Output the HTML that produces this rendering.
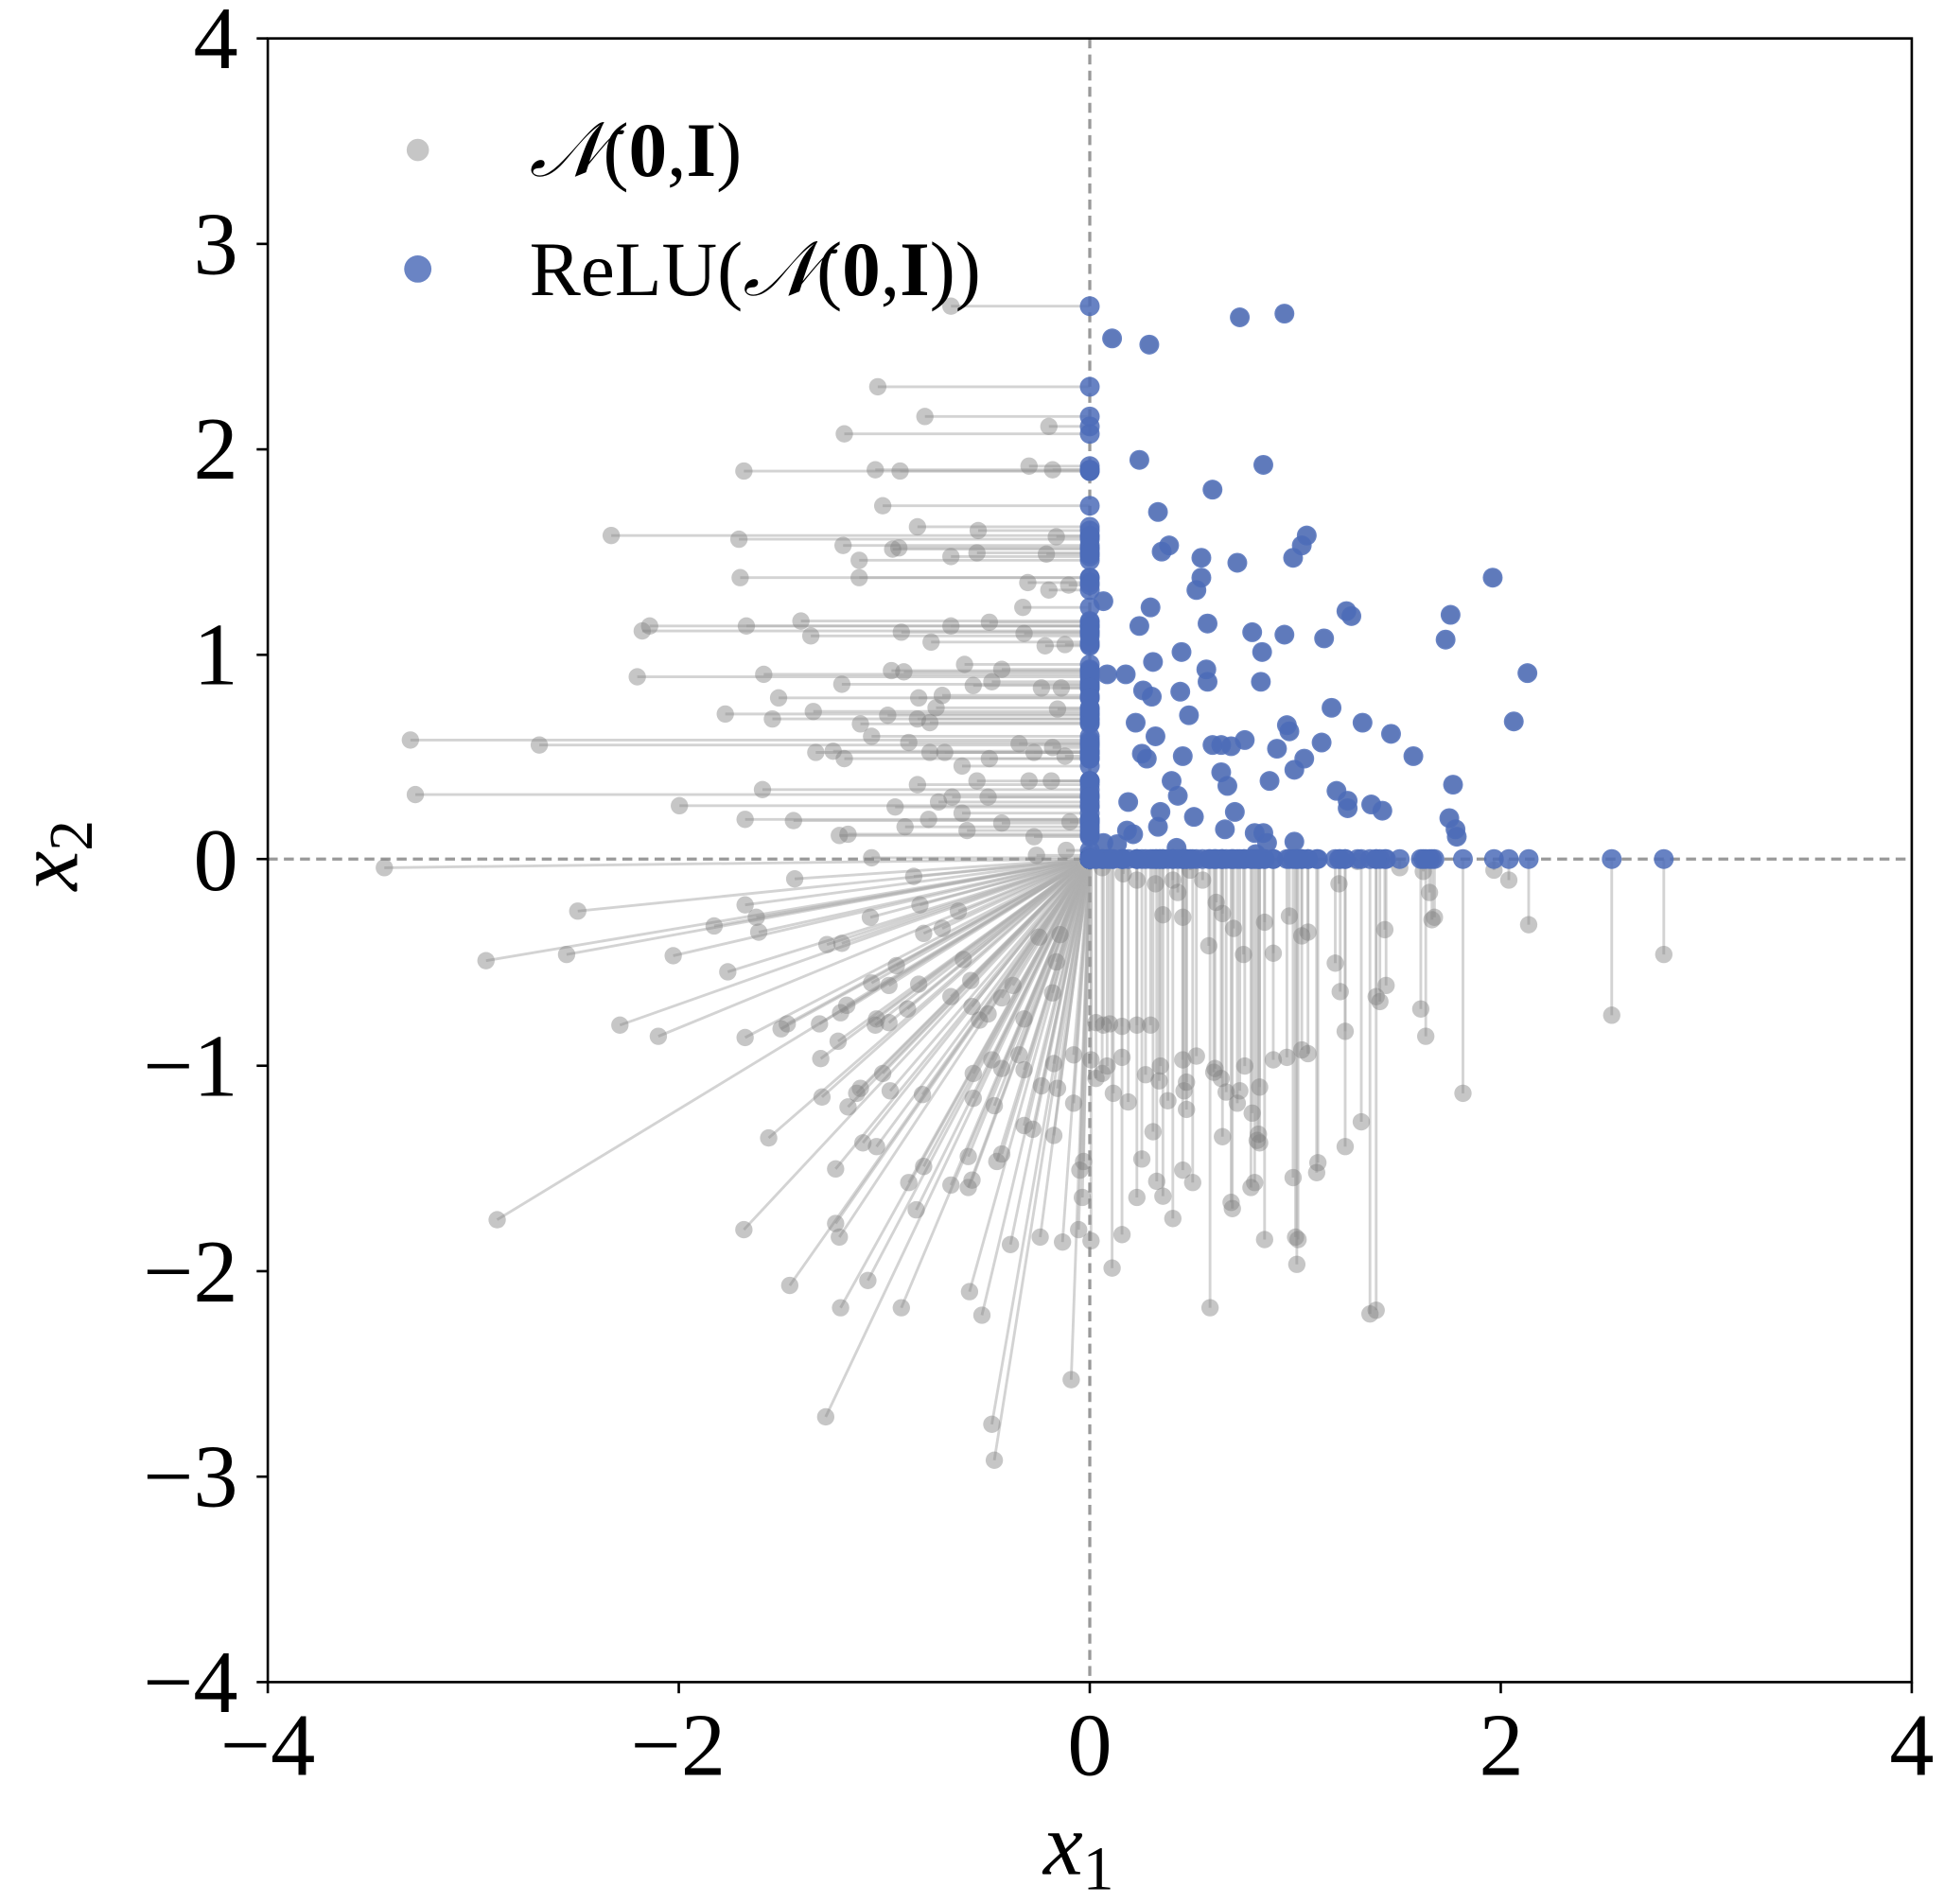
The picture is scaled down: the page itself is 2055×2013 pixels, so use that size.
<!DOCTYPE html>
<html><head><meta charset="utf-8"><style>
html,body{margin:0;padding:0;background:#fff;}
svg{display:block;}
text{font-family:"Liberation Serif","DejaVu Serif",serif;fill:#000;}
</style></head><body>
<svg id="s" xmlns="http://www.w3.org/2000/svg" width="2055" height="2013" viewBox="0 0 1568 1536" preserveAspectRatio="none">
<rect x="0" y="0" width="1568" height="1536" fill="#fff"/>
<g id="lines"></g>
<line x1="879" y1="31" x2="879" y2="1357" stroke="#999" stroke-width="2.5" stroke-dasharray="8,5"/>
<line x1="216" y1="693" x2="1542" y2="693" stroke="#999" stroke-width="2.5" stroke-dasharray="8,5"/>
<g id="gray"></g>
<g id="blue"></g>
<rect x="216" y="31" width="1326" height="1326" fill="none" stroke="#000" stroke-width="2"/>
<g stroke="#000" stroke-width="2">
<line x1="216" y1="1357" x2="216" y2="1366"/><line x1="547.5" y1="1357" x2="547.5" y2="1366"/><line x1="879" y1="1357" x2="879" y2="1366"/><line x1="1210.5" y1="1357" x2="1210.5" y2="1366"/><line x1="1542" y1="1357" x2="1542" y2="1366"/>
<line x1="207" y1="31" x2="216" y2="31"/><line x1="207" y1="196.75" x2="216" y2="196.75"/><line x1="207" y1="362.5" x2="216" y2="362.5"/><line x1="207" y1="528.25" x2="216" y2="528.25"/><line x1="207" y1="693" x2="216" y2="693"/><line x1="207" y1="859.75" x2="216" y2="859.75"/><line x1="207" y1="1025.5" x2="216" y2="1025.5"/><line x1="207" y1="1191.25" x2="216" y2="1191.25"/><line x1="207" y1="1357" x2="216" y2="1357"/>
</g>
<g font-size="72" text-anchor="middle">
<text x="216" y="1432">−4</text><text x="547" y="1432">−2</text><text x="879" y="1432">0</text><text x="1211" y="1432">2</text><text x="1542" y="1432">4</text>
</g>
<g font-size="72" text-anchor="end">
<text x="192" y="55">4</text><text x="192" y="221">3</text><text x="192" y="386">2</text><text x="192" y="552">1</text><text x="192" y="718">0</text><text x="192" y="884">−1</text><text x="192" y="1050">−2</text><text x="192" y="1215">−3</text><text x="192" y="1381">−4</text>
</g>
<text x="870" y="1512" font-size="72" font-style="italic" text-anchor="middle">x<tspan font-size="50" dy="12" font-style="normal">1</tspan></text>
<text transform="translate(62,690) rotate(-90)" font-size="72" font-style="italic" text-anchor="middle">x<tspan font-size="50" dy="12" font-style="normal">2</tspan></text>
<circle cx="337" cy="121" r="9" fill="#c6c6c6"/>
<circle cx="337" cy="217" r="11" fill="#6a84c4"/>
<text x="427" y="142" font-size="62"><tspan font-style="italic">𝒩</tspan>(<tspan font-weight="bold">0</tspan>,<tspan font-weight="bold">I</tspan>)</text>
<text x="427" y="238" font-size="62">ReLU(<tspan font-style="italic">𝒩</tspan>(<tspan font-weight="bold">0</tspan>,<tspan font-weight="bold">I</tspan>))</text>
</svg>
<script>
var P=[[767,247],[708,312],[746,336],[681,350],[846,344],[600,380],[706,379],[726,380],[830,376],[849,379],[712,408],[740,425],[493,432],[596,435],[680,440],[789,428],[852,433],[720,443],[693,452],[725,442],[788,446],[767,449],[844,447],[597,466],[693,466],[829,470],[862,472],[646,501],[524,505],[518,509],[602,505],[798,502],[767,505],[654,513],[727,510],[825,490],[846,476],[826,511],[843,521],[859,520],[751,518],[778,536],[808,540],[800,550],[785,553],[729,542],[719,541],[760,561],[679,552],[616,544],[514,546],[840,555],[856,555],[741,563],[755,571],[628,563],[585,576],[623,580],[656,574],[694,584],[716,577],[740,580],[750,583],[853,572],[331,597],[435,601],[658,607],[672,606],[703,594],[733,599],[750,607],[762,607],[776,618],[798,612],[822,600],[834,607],[849,603],[681,612],[859,610],[788,630],[848,630],[830,630],[615,637],[335,641],[740,633],[768,643],[722,651],[757,647],[797,643],[548,650],[601,661],[640,662],[684,673],[730,667],[749,661],[776,656],[808,664],[834,675],[863,663],[677,674],[780,670],[860,686],[836,690],[703,692],
[310,700],[466,735],[392,775],[457,770],[543,771],[500,827],[531,836],[576,747],[587,784],[601,730],[610,740],[612,752],[641,709],[667,762],[679,761],[702,740],[742,730],[773,735],[745,753],[737,707],[760,749],[777,774],[783,791],[741,794],[723,779],[717,795],[707,822],[703,793],[635,826],[630,830],[601,837],[661,826],[678,817],[683,811],[706,827],[717,825],[732,814],[767,804],[784,812],[790,823],[797,818],[808,805],[817,795],[826,822],[849,801],[838,756],[852,776],[855,754],[662,854],[676,840],[663,885],[694,878],[691,882],[712,866],[718,880],[744,883],[785,866],[800,855],[808,862],[822,851],[840,876],[850,858],[853,878],[866,851],[684,893],[696,922],[707,925],[620,918],[674,943],[745,941],[733,954],[781,958],[784,952],[808,931],[826,908],[833,911],[850,916],[802,892],[866,890],[781,933],[785,886],[826,863],[804,937],[674,987],[677,998],[600,992],[739,976],[767,956],[815,1004],[839,998],[857,1002],[870,992],[637,1037],[700,1033],[678,1055],[727,1055],[782,1042],[792,1061],[864,1113],[666,1143],[800,1149],[802,1178],[401,984],[871,944],[873,966],[874,937],[880,1001],
[889,700],[906,705],[917,710],[932,713],[938,738],[946,710],[950,720],[954,740],[960,702],[970,710],[981,728],[986,737],[975,763],[995,749],[1003,770],[1020,744],[1027,769],[1040,739],[1050,755],[1055,752],[1080,713],[1095,695],[1129,700],[1148,703],[1157,740],[1117,750],[1077,777],[1081,800],[1085,832],[1113,808],[1118,795],[1110,804],[1146,814],[1150,836],[1153,720],[1155,742],[1205,702],[1217,710],[1233,746],[1300,819],[1342,770],[1180,882],[1098,905],[1085,925],[1063,938],[1062,946],[1043,950],[1038,853],[1050,847],[1055,850],[1027,855],[1010,898],[1004,860],[1000,880],[998,890],[985,870],[980,862],[957,873],[942,888],[935,872],[924,867],[905,853],[893,860],[889,866],[884,825],[890,827],[895,826],[905,828],[917,827],[928,827],[936,860],[954,855],[955,880],[957,895],[965,852],[979,865],[989,881],[1016,877],[1015,915],[1014,920],[1016,922],[986,917],[993,970],[994,975],[1009,958],[1012,954],[1045,998],[1047,1000],[1105,1060],[1110,1057],[1046,1020],[1020,1000],[897,1023],[905,996],[917,966],[921,935],[938,965],[946,983],[954,944],[976,1055],[962,954],[930,913],[933,953],[910,889],[898,882],[880,855],[884,870],
[897,273],[927,278],[1000,256],[1036,253],[919,371],[1019,375],[978,395],[934,413],[937,445],[943,440],[969,450],[998,454],[1054,432],[1050,440],[1043,450],[1204,466],[969,466],[965,476],[974,503],[928,490],[890,485],[1086,493],[1090,497],[1170,496],[1166,516],[1068,515],[1010,510],[1036,512],[953,526],[919,505],[930,534],[1018,526],[893,544],[908,544],[973,540],[974,550],[1017,550],[952,558],[922,557],[929,562],[1232,543],[1074,571],[916,583],[959,577],[1038,585],[1040,590],[1099,583],[1221,582],[932,594],[1122,592],[1066,599],[985,601],[1004,597],[1030,604],[921,608],[925,612],[954,610],[978,601],[993,602],[1140,610],[1052,612],[945,630],[1024,630],[1044,621],[985,623],[990,634],[1078,638],[1172,633],[1087,646],[1087,652],[1106,649],[1115,654],[950,642],[910,647],[936,655],[963,659],[934,667],[996,655],[1019,672],[1169,660],[1174,669],[1175,675],[909,670],[914,673],[988,669],[1012,672],[1044,679],[1013,689],[890,680],[901,681],[949,684],[1022,680]];
var NS="http://www.w3.org/2000/svg",L=document.getElementById("lines"),G=document.getElementById("gray"),B=document.getElementById("blue");
function el(t,a,p){var e=document.createElementNS(NS,t);for(var k in a)e.setAttribute(k,a[k]);p.appendChild(e);}
P.forEach(function(p){var bx=Math.max(p[0],879),by=Math.min(p[1],693);
el("line",{x1:p[0],y1:p[1],x2:bx,y2:by,stroke:"rgba(175,175,175,0.55)","stroke-width":2.2},L);
el("circle",{cx:p[0],cy:p[1],r:7,fill:"rgba(128,128,128,0.45)"},G);
el("circle",{cx:bx,cy:by,r:8,fill:"rgba(76,108,184,0.85)"},B);});
</script>
</body></html>
